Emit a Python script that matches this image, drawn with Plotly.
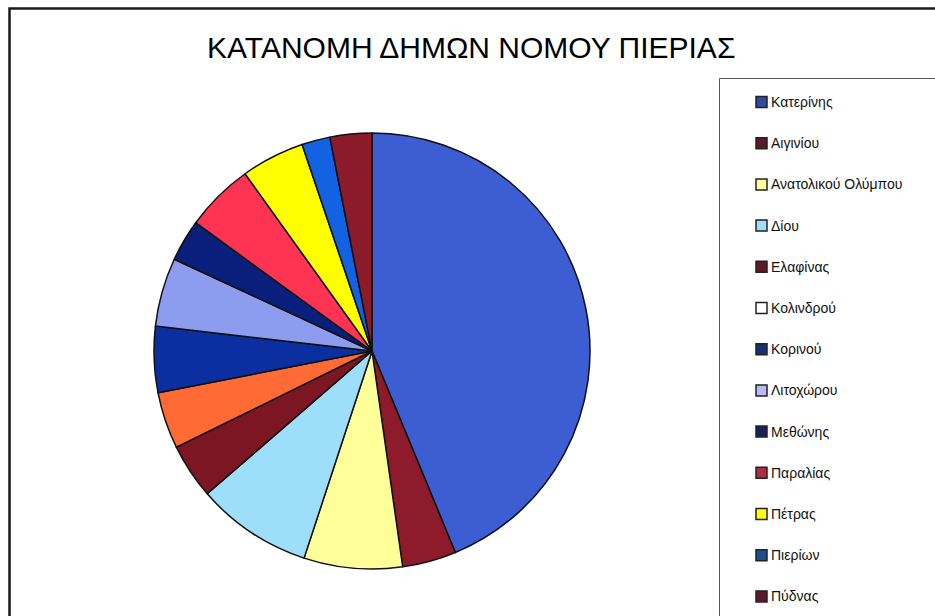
import plotly.graph_objects as go

# Δήμοι του Νομού Πιερίας και το ποσοστό τους (%)
municipalities = [
    "Κατερίνης", "Αιγινίου", "Ανατολικού Ολύμπου", "Δίου", "Ελαφίνας",
    "Κολινδρού", "Κορινού", "Λιτοχώρου", "Μεθώνης", "Παραλίας",
    "Πέτρας", "Πιερίων", "Πύδνας",
]
shares = [43.8, 4.0, 7.3, 8.6, 4.1, 4.2, 4.9, 5.1, 3.1, 5.1, 4.7, 2.1, 3.1]

slice_colors = [
    "#3D5DD2", "#8E1B2C", "#FFFF99", "#9DDEFA", "#7C1622",
    "#FF6A35", "#0B2EA0", "#8E9CF0", "#0A1E7C", "#FF3452",
    "#FFFF00", "#1262E2", "#8B1B2B",
]
# swatch fill / border used in the legend box
swatch_fill = [
    "#2F4A9E", "#5E1A24", "#FFFF99", "#9DDEFA", "#5E1A24",
    "#FFFFFF", "#13307A", "#B8BCF0", "#14225C", "#B02A44",
    "#FFFF00", "#1E4E90", "#5A1A2A",
]

W, H = 935, 616
fig = go.Figure()

fig.add_trace(go.Pie(
    labels=municipalities,
    values=shares,
    sort=False,
    direction="clockwise",
    rotation=0,
    marker=dict(colors=slice_colors, line=dict(color="#111111", width=1.5)),
    textinfo="none",
    hoverinfo="label+percent",
    showlegend=False,
    domain=dict(x=[154 / W, 590 / W], y=[(H - 569) / H, (H - 133) / H]),
))

shapes = [
    # outer frame
    dict(type="rect", xref="paper", yref="paper",
         x0=9.5 / W, x1=1.02, y0=-0.02, y1=(H - 8.5) / H,
         line=dict(color="#1a1a1a", width=2.5), fillcolor="rgba(0,0,0,0)"),
    # legend box
    dict(type="rect", xref="paper", yref="paper",
         x0=719.5 / W, x1=1.02, y0=-0.02, y1=(H - 78.5) / H,
         line=dict(color="#555555", width=1), fillcolor="rgba(0,0,0,0)"),
]
annotations = [
    dict(text="ΚΑΤΑΝΟΜΗ ΔΗΜΩΝ ΝΟΜΟΥ ΠΙΕΡΙΑΣ", xref="paper", yref="paper",
         x=471 / W, y=(H - 47) / H, xanchor="center", yanchor="middle",
         showarrow=False,
         font=dict(family="Liberation Sans, Arial", size=30, color="#000000")),
]

first_y, step = 102, 41.2
for i, name in enumerate(municipalities):
    yc = first_y + i * step
    shapes.append(dict(
        type="rect", xref="paper", yref="paper",
        x0=756 / W, x1=767 / W, y0=(H - yc - 5.5) / H, y1=(H - yc + 5.5) / H,
        fillcolor=swatch_fill[i], line=dict(color="#222222", width=1.5),
    ))
    annotations.append(dict(
        text=name, xref="paper", yref="paper",
        x=769 / W, y=(H - yc) / H, xanchor="left", yanchor="middle",
        showarrow=False,
        font=dict(family="Liberation Sans, Arial", size=14, color="#111111"),
    ))

fig.update_layout(
    width=W, height=H,
    margin=dict(l=0, r=0, t=0, b=0),
    paper_bgcolor="white",
    plot_bgcolor="white",
    shapes=shapes,
    annotations=annotations,
)

fig.write_html("out.html")
